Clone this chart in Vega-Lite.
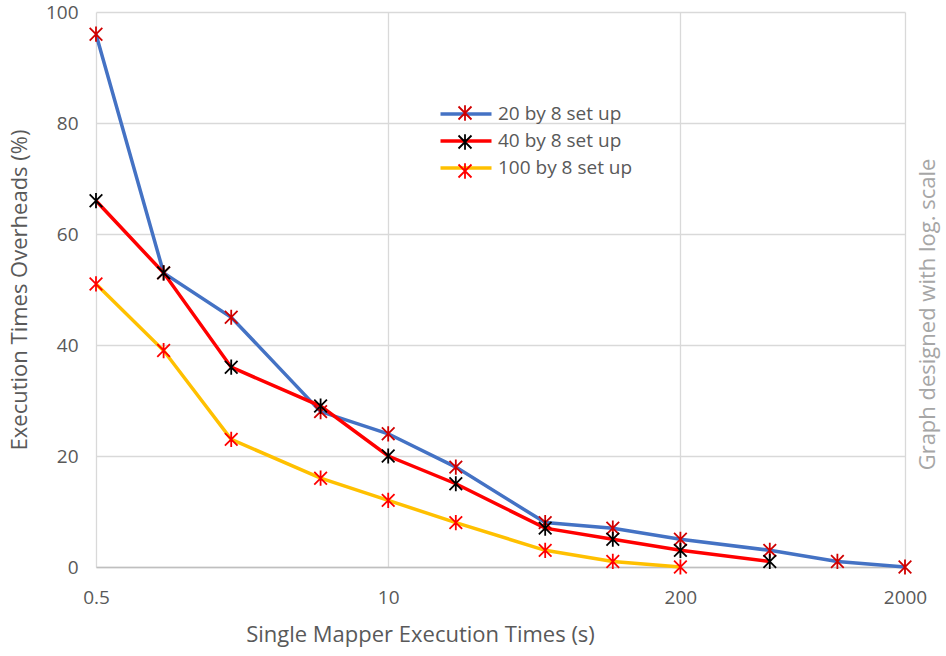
{
  "$schema": "https://vega.github.io/schema/vega-lite/v6.json",
  "width": 809,
  "height": 555,
  "autosize": {"type": "none"},
  "padding": {"left": 96, "top": 12, "right": 41, "bottom": 89},
  "background": "white",
  "config": {
    "font": "Open Sans",
    "view": {"stroke": null},
    "axis": {"labelColor": "#595959", "titleColor": "#595959", "titleFontWeight": "normal", "gridColor": "#d9d9d9", "gridWidth": 1.3}
  },
  "data": {
    "values": [
      {"t": 0.5, "v": 96, "s": "20 by 8 set up"},
      {"t": 1, "v": 53, "s": "20 by 8 set up"},
      {"t": 2, "v": 45, "s": "20 by 8 set up"},
      {"t": 5, "v": 28, "s": "20 by 8 set up"},
      {"t": 10, "v": 24, "s": "20 by 8 set up"},
      {"t": 20, "v": 18, "s": "20 by 8 set up"},
      {"t": 50, "v": 8, "s": "20 by 8 set up"},
      {"t": 100, "v": 7, "s": "20 by 8 set up"},
      {"t": 200, "v": 5, "s": "20 by 8 set up"},
      {"t": 500, "v": 3, "s": "20 by 8 set up"},
      {"t": 1000, "v": 1, "s": "20 by 8 set up"},
      {"t": 2000, "v": 0, "s": "20 by 8 set up"},
      {"t": 0.5, "v": 66, "s": "40 by 8 set up"},
      {"t": 1, "v": 53, "s": "40 by 8 set up"},
      {"t": 2, "v": 36, "s": "40 by 8 set up"},
      {"t": 5, "v": 29, "s": "40 by 8 set up"},
      {"t": 10, "v": 20, "s": "40 by 8 set up"},
      {"t": 20, "v": 15, "s": "40 by 8 set up"},
      {"t": 50, "v": 7, "s": "40 by 8 set up"},
      {"t": 100, "v": 5, "s": "40 by 8 set up"},
      {"t": 200, "v": 3, "s": "40 by 8 set up"},
      {"t": 500, "v": 1, "s": "40 by 8 set up"},
      {"t": 0.5, "v": 51, "s": "100 by 8 set up"},
      {"t": 1, "v": 39, "s": "100 by 8 set up"},
      {"t": 2, "v": 23, "s": "100 by 8 set up"},
      {"t": 5, "v": 16, "s": "100 by 8 set up"},
      {"t": 10, "v": 12, "s": "100 by 8 set up"},
      {"t": 20, "v": 8, "s": "100 by 8 set up"},
      {"t": 50, "v": 3, "s": "100 by 8 set up"},
      {"t": 100, "v": 1, "s": "100 by 8 set up"},
      {"t": 200, "v": 0, "s": "100 by 8 set up"}
    ]
  },
  "layer": [
    {
      "mark": {"type": "line", "strokeWidth": 3.5, "clip": false},
      "encoding": {
        "x": {"field": "t", "type": "quantitative",
          "scale": {"type": "log", "domain": [0.5, 2000], "nice": false},
          "axis": {"values": [0.5, 10, 200, 2000], "format": "~g", "labelFontSize": 19, "labelPadding": 21, "ticks": false, "domainColor": "#bfbfbf", "domainWidth": 1.3, "title": "Single Mapper Execution Times (s)", "titleFontSize": 22, "titlePadding": 17, "titleX": 324, "titleAlign": "center", "labelFlush": false}},
        "y": {"field": "v", "type": "quantitative",
          "scale": {"domain": [0, 100], "nice": false, "zero": true},
          "axis": {"values": [0, 20, 40, 60, 80, 100], "labelFontSize": 19, "labelPadding": 18, "ticks": false, "domain": false, "title": "Execution Times Overheads (%)", "titleFontSize": 22, "titlePadding": 14}},
        "color": {"field": "s", "type": "nominal",
          "scale": {"domain": ["20 by 8 set up", "40 by 8 set up", "100 by 8 set up"], "range": ["#4472c4", "#ff0000", "#ffc000"]},
          "legend": {"title": null, "orient": "none", "legendX": 358, "legendY": 90, "symbolType": "M-2.55,0L2.55,0", "symbolSize": 400, "symbolStrokeWidth": 3.5, "labelFontSize": 19, "labelColor": "#595959", "rowPadding": 5, "labelOffset": 20}}
      }
    },
    {
      "mark": {"type": "point", "shape": "M-1,-1L1,1M-1,1L1,-1M0,-1.2L0,1.2", "filled": false, "size": 160, "strokeWidth": 1.8, "opacity": 1, "clip": false},
      "encoding": {
        "x": {"field": "t", "type": "quantitative", "scale": {"type": "log", "domain": [0.5, 2000], "nice": false}},
        "y": {"field": "v", "type": "quantitative", "scale": {"domain": [0, 100], "nice": false},
          "axis": {"orient": "right", "labels": false, "ticks": false, "domain": false, "grid": false, "title": "Graph  designed with log. scale", "titleColor": "#a6a6a6", "titleFontSize": 22, "titleAngle": 270, "titlePadding": 34, "titleY": 302, "titleAlign": "center"}},
        "stroke": {"field": "s", "type": "nominal", "sort": null,
          "scale": {"range": ["#d00000", "#000000", "#ff0000"]},
          "legend": {"title": null, "orient": "none", "legendX": 358, "legendY": 90, "symbolType": "M-0.65,-0.65L0.65,0.65M-0.65,0.65L0.65,-0.65M0,-0.78L0,0.78", "symbolSize": 400, "symbolStrokeWidth": 1.8, "labelExpr": "''", "labelFontSize": 19, "rowPadding": 5}}
      }
    }
  ],
  "resolve": {"axis": {"y": "independent"}}
}
